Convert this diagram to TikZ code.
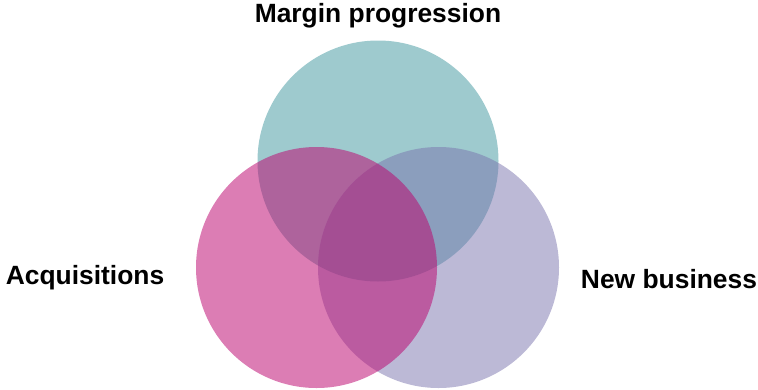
\documentclass[tikz,border=0pt]{standalone}
\usepackage{fontspec}
\setmainfont{Liberation Sans}
\definecolor{tealbase}{RGB}{61,149,157}
\definecolor{lavbase}{RGB}{121,115,173}
\definecolor{pinkbase}{RGB}{188,5,111}
\begin{document}
\begin{tikzpicture}[x=1pt,y=-1pt,
  venn/.style={circle, minimum size=241pt, inner sep=0pt, draw=none, fill opacity=0.5},
  vlabel/.style={anchor=base, inner sep=0pt, font=\fontsize{26.4}{30}\selectfont\bfseries}]
  \useasboundingbox (0,0) rectangle (758,389);
  % three overlapping sets, drawn back to front
  \node[venn, fill=tealbase] (margin) at (378,161) {};
  \node[venn, fill=lavbase] (newbiz) at (438.5,267.5) {};
  \node[venn, fill=pinkbase, fill opacity=0.52] (acq) at (316.5,267.5) {};
  % set labels
  \node[vlabel] (marginlbl) at (378,22) {Margin progression};
  \node[vlabel] (acqlbl) at (85,284) {Acquisitions};
  \node[vlabel] (newbizlbl) at (669,288) {New business};
\end{tikzpicture}
\end{document}
